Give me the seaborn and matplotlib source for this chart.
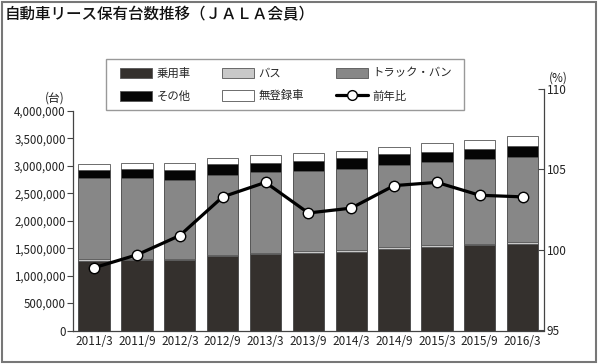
import numpy as np
import pandas as pd
import matplotlib
matplotlib.use("Agg")
import matplotlib.pyplot as plt
from matplotlib.patches import Rectangle, Patch
from matplotlib.lines import Line2D
from matplotlib.ticker import FuncFormatter
import seaborn as sns

# ---- data ----
periods = ["2011/3", "2011/9", "2012/3", "2012/9", "2013/3", "2013/9",
           "2014/3", "2014/9", "2015/3", "2015/9", "2016/3"]
passenger = [1260000, 1280000, 1280000, 1350000, 1390000, 1410000,
             1430000, 1480000, 1520000, 1550000, 1580000]
bus = [40000, 30000, 30000, 30000, 30000, 30000,
       30000, 40000, 30000, 30000, 40000]
truck = [1470000, 1470000, 1440000, 1460000, 1460000, 1470000,
         1490000, 1490000, 1520000, 1540000, 1550000]
other = [150000, 155000, 170000, 190000, 180000, 180000,
         190000, 200000, 190000, 190000, 200000]
unregistered = [110000, 110000, 136000, 120000, 130000, 140000,
                130000, 140000, 155000, 170000, 170000]
yoy = [98.9, 99.7, 100.9, 103.3, 104.2, 102.3, 102.6, 104.0, 104.2, 103.4, 103.3]

series_names = ["乗用車", "バス", "トラック・バン", "その他", "無登録車"]
line_name = "前年比"
title = "自動車リース保有台数推移（ＪＡＬＡ会員）"

colors = ["#34302d", "#c9c9c9", "#878787", "#050505", "#ffffff"]

sns.set_style("white")
plt.rcParams["font.family"] = ["Noto Sans CJK JP", "DejaVu Sans"]

df = pd.DataFrame({"pos": np.arange(len(periods)), "period": periods,
                   "乗用車": passenger, "バス": bus, "トラック・バン": truck,
                   "その他": other, "無登録車": unregistered, "前年比": yoy})

fig = plt.figure(figsize=(6.0, 3.64), dpi=100)
ax = fig.add_axes([72.7 / 600, 1 - 330.5 / 364, (544 - 72.7) / 600, (330.5 - 89) / 364])

cum = df[series_names].cumsum(axis=1)
for i in range(len(series_names) - 1, -1, -1):
    sns.barplot(x=df["pos"], y=cum[series_names[i]], native_scale=True,
                width=0.73, color=colors[i], saturation=1, errorbar=None,
                edgecolor="#555555", linewidth=0.6, ax=ax, zorder=2)

ax.set_xlim(-0.5, len(periods) - 0.5)
ax.set_ylim(0, 4e6 * 241.5 / 219.5)
ax.set_yticks(np.arange(0, 4000001, 500000))
ax.yaxis.set_major_formatter(FuncFormatter(lambda v, p: f"{v:,.0f}"))
ax.set_xticks(df["pos"], labels=periods)
ax.set_xlabel("")
ax.set_ylabel("")
ax.tick_params(axis="y", direction="out", length=4, width=0.8, color="#444", pad=1,
               labelsize=8.3, labelcolor="#222")
ax.tick_params(axis="x", length=0, pad=3.5, labelsize=8.5, labelcolor="#222")
for s in ["top", "right"]:
    ax.spines[s].set_visible(False)
ax.spines["left"].set_bounds(0, 4e6)
for s in ["left", "bottom"]:
    ax.spines[s].set_color("#444")
    ax.spines[s].set_linewidth(0.9)

ax2 = ax.twinx()
sns.lineplot(x=df["pos"], y=df["前年比"], color="black", linewidth=2.3, marker="o",
             markersize=7.5, markerfacecolor="white", markeredgecolor="black",
             markeredgewidth=1.0, sort=False, ax=ax2, zorder=5)
ax2.set_ylim(95, 110)
ax2.set_yticks([95, 100, 105, 110])
ax2.set_ylabel("")
ax2.set_xlabel("")
ax2.tick_params(axis="y", direction="in", length=4, width=0.8, color="#444", pad=2,
                labelsize=8.5, labelcolor="#222")
for s in ["top", "left", "bottom"]:
    ax2.spines[s].set_visible(False)
ax2.spines["right"].set_color("#444")
ax2.spines["right"].set_linewidth(0.9)

# unit labels
fig.text(55 / 600, 1 - 98 / 364, "(台)", fontsize=8.5, ha="center", va="center", color="#222")
fig.text(558 / 600, 1 - 78 / 364, "(%)", fontsize=8.5, ha="center", va="center", color="#222")

# title
fig.text(5 / 600, 1 - 15 / 364, title, fontsize=11.2, fontweight="medium",
         ha="left", va="center", color="#111")

# legend frame + legend
fig.patches.append(Rectangle((106 / 600, 1 - 110 / 364), 358 / 600, 51 / 364,
                             transform=fig.transFigure, fill=False,
                             edgecolor="#999999", linewidth=1.0))
handles = [Patch(facecolor=colors[i], edgecolor="#555555", linewidth=0.6)
           for i in range(len(series_names))]
hline = Line2D([], [], color="black", linewidth=2.3, marker="o", markersize=7,
               markerfacecolor="white", markeredgecolor="black", markeredgewidth=1.0)
order_h = [handles[0], handles[3], handles[1], handles[4], handles[2], hline]
order_l = [series_names[0], series_names[3], series_names[1], series_names[4],
           series_names[2], line_name]
fig.legend(order_h, order_l, ncol=3, loc="center", mode="expand",
           bbox_to_anchor=(120 / 600, 1 - 110 / 364, (452 - 120) / 600, 51 / 364),
           bbox_transform=fig.transFigure, frameon=False, fontsize=8.2,
           handlelength=2.8, handleheight=1.0, handletextpad=0.4,
           labelspacing=1.05, borderpad=0, borderaxespad=0, numpoints=1)

# outer frame
fig.patches.append(Rectangle((1.5 / 600, 2.5 / 364), 594 / 600, 360 / 364,
                             transform=fig.transFigure, fill=False,
                             edgecolor="#777777", linewidth=1.5))

fig.savefig("out.png", dpi=100)
